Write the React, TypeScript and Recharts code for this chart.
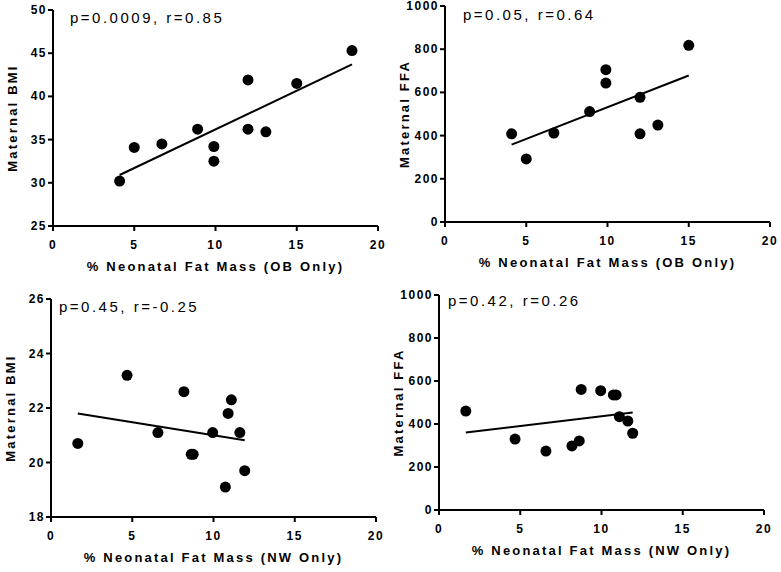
import { Label, Scatter, ScatterChart, XAxis, YAxis } from "recharts";

const FONT = '"Liberation Sans", Arial, Helvetica, sans-serif';

// OB group
const obFatMass = [4.1, 5.0, 6.7, 8.9, 9.9, 9.9, 12.0, 12.0, 13.1, 15.0, 18.4];
const obBmi = [30.2, 34.1, 34.5, 36.2, 34.2, 32.5, 41.9, 36.2, 35.9, 41.5, 45.3];
const obFfa = [408, 292, 412, 511, 705, 643, 577, 408, 449, 818];

// NW group
const nwFatMass = [1.65, 4.68, 6.58, 8.18, 8.63, 8.75, 9.95, 10.73, 10.9, 11.1, 11.62, 11.92];
const nwBmi = [20.7, 23.2, 21.1, 22.6, 20.3, 20.3, 21.1, 19.1, 21.8, 22.3, 21.1, 19.7];
const nwFfa = [460, 330, 274, 298, 321, 561, 555, 535, 535, 434, 414, 357];

// regression line end points
const obBmiFitX = [4.1, 18.4];
const obBmiFitY = [30.9, 43.7];
const obFfaFitX = [4.1, 15.0];
const obFfaFitY = [358, 678];
const nwBmiFitX = [1.65, 11.92];
const nwBmiFitY = [21.8, 20.82];
const nwFfaFitX = [1.65, 11.92];
const nwFfaFitY = [360, 453];

const xTicks = [0, 5, 10, 15, 20];
const obBmiTicks = [25, 30, 35, 40, 45, 50];
const nwBmiTicks = [18, 20, 22, 24, 26];
const ffaTicks = [0, 200, 400, 600, 800, 1000];

const pairs = (xs: number[], ys: number[]) => ys.map((y, i) => ({ x: xs[i], y }));

const axisStyle = { stroke: "#000", strokeWidth: 2 };
const tickText = { fontFamily: FONT, fontSize: 12, fontWeight: 700, fill: "#000", letterSpacing: 1.5 };
const titleText = { fontFamily: FONT, fontSize: 13, fontWeight: 700, fill: "#000", letterSpacing: 2.2 };

function XTick(props: any) {
  const { x, y, payload } = props;
  return (
    <text x={x} y={y} dy={16} textAnchor="middle" style={tickText}>
      {payload.value}
    </text>
  );
}

function YTick(props: any) {
  const { x, y, payload } = props;
  return (
    <text x={x + 1} y={y} dy={4} textAnchor="end" style={tickText}>
      {payload.value}
    </text>
  );
}

function XTitle(props: any) {
  const vb = props.viewBox || { x: 0, y: 0, width: 0 };
  return (
    <text x={vb.x + vb.width / 2} y={vb.y + 45} textAnchor="middle" style={titleText}>
      {props.text}
    </text>
  );
}

function YTitle(props: any) {
  const vb = props.viewBox || { x: 0, y: 0, width: 0, height: 0 };
  const x = vb.x + vb.width - 36;
  const y = vb.y + vb.height / 2;
  return (
    <text x={x} y={y} transform={`rotate(-90, ${x}, ${y})`} textAnchor="middle" style={titleText}>
      {props.text}
    </text>
  );
}

const Dot = (props: any) => <circle cx={props.cx} cy={props.cy} r={5.5} fill="#000" />;
const NoDot = () => <g />;

type PanelProps = {
  left: number;
  top: number;
  plotH: number;
  points: { x: number; y: number }[];
  fit: { x: number; y: number }[];
  yTicks: number[];
  yLabel: string;
  xLabel: string;
  note: string;
  noteDx: number;
  noteDy: number;
};

function Panel({ left, top, plotH, points, fit, yTicks, yLabel, xLabel, note, noteDx, noteDy }: PanelProps) {
  const yDomain = [yTicks[0], yTicks[yTicks.length - 1]];
  return (
    <div style={{ position: "absolute", left: left - 53, top: top - 10 }}>
      <ScatterChart width={390} height={10 + plotH + 56} margin={{ top: 10, right: 12, bottom: 0, left: 0 }}>
        <XAxis
          type="number"
          dataKey="x"
          domain={[0, 20]}
          ticks={xTicks}
          interval={0}
          height={56}
          axisLine={axisStyle}
          tickLine={axisStyle}
          tickSize={5}
          tick={<XTick />}
        >
          <Label content={<XTitle text={xLabel} />} />
        </XAxis>
        <YAxis
          type="number"
          dataKey="y"
          domain={yDomain}
          ticks={yTicks}
          interval={0}
          width={53}
          axisLine={axisStyle}
          tickLine={axisStyle}
          tickSize={5}
          tick={<YTick />}
        >
          <Label content={<YTitle text={yLabel} />} />
        </YAxis>
        <Scatter data={fit} line={{ stroke: "#000", strokeWidth: 2 }} shape={NoDot} isAnimationActive={false} />
        <Scatter data={points} shape={Dot} isAnimationActive={false} />
        <text
          x={53 + noteDx}
          y={10 + noteDy}
          style={{ fontFamily: FONT, fontSize: 15, fill: "#000", letterSpacing: 2.5 }}
        >
          {note}
        </text>
      </ScatterChart>
    </div>
  );
}

export default function App() {
  return (
    <div style={{ position: "absolute", left: 0, top: 0, width: 781, height: 572, background: "#fff", overflow: "hidden" }}>
      <Panel
        left={53}
        top={10}
        plotH={216}
        points={pairs(obFatMass, obBmi)}
        fit={pairs(obBmiFitX, obBmiFitY)}
        yTicks={obBmiTicks}
        yLabel="Maternal BMI"
        xLabel="% Neonatal Fat Mass (OB Only)"
        note="p=0.0009, r=0.85"
        noteDx={17}
        noteDy={13}
      />
      <Panel
        left={445}
        top={6}
        plotH={216}
        points={pairs(obFatMass, obFfa)}
        fit={pairs(obFfaFitX, obFfaFitY)}
        yTicks={ffaTicks}
        yLabel="Maternal FFA"
        xLabel="% Neonatal Fat Mass (OB Only)"
        note="p=0.05, r=0.64"
        noteDx={18}
        noteDy={14}
      />
      <Panel
        left={51}
        top={299}
        plotH={218}
        points={pairs(nwFatMass, nwBmi)}
        fit={pairs(nwBmiFitX, nwBmiFitY)}
        yTicks={nwBmiTicks}
        yLabel="Maternal BMI"
        xLabel="% Neonatal Fat Mass (NW Only)"
        note="p=0.45, r=-0.25"
        noteDx={8}
        noteDy={13}
      />
      <Panel
        left={439}
        top={295}
        plotH={215}
        points={pairs(nwFatMass, nwFfa)}
        fit={pairs(nwFfaFitX, nwFfaFitY)}
        yTicks={ffaTicks}
        yLabel="Maternal FFA"
        xLabel="% Neonatal Fat Mass (NW Only)"
        note="p=0.42, r=0.26"
        noteDx={9}
        noteDy={11}
      />
    </div>
  );
}
